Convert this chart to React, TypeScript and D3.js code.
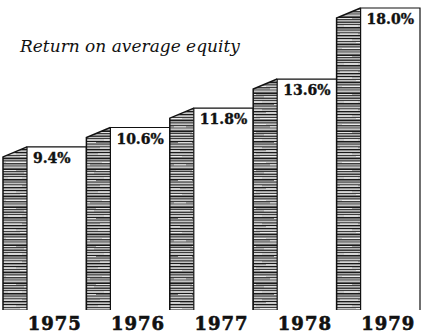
import React from "react";
import * as d3 from "d3";

const years = ["1975", "1976", "1977", "1978", "1979"];
const values = [9.4, 10.6, 11.8, 13.6, 18.0];
const valueLabels = ["9.4%", "10.6%", "11.8%", "13.6%", "18.0%"];
const title = "Return on average equity";

const W = 429;
const H = 336;
const baseline = 310;
const sideW = 24;
const depth = 10;

// deterministic woodcut-like stripe layout within pattern tile
const stripeOffsets = [0, 3.0, 5.6, 8.4, 11.2, 13.6, 16.4, 19.2, 21.6, 24.2, 27.0, 29.6, 32.4, 35.0];
const stripeWidths = [1.2, 0.8, 1.6, 0.9, 1.1, 0.7, 1.8, 0.9, 1.2, 0.8, 1.5, 0.9, 1.0, 1.3];
// short light streaks: [x, y, width]
const streaks = [
  [2, 1.6, 14], [20, 4.2, 18], [6, 10.0, 20], [30, 12.4, 12], [0, 18.0, 16],
  [24, 20.4, 22], [8, 25.6, 14], [34, 28.2, 16], [4, 33.6, 18], [26, 36.4, 10],
];

export default function App() {
  const x = d3.scaleBand<string>().domain(years).range([3, 420]).paddingInner(0).paddingOuter(0);
  const y = d3.scaleLinear().domain([-0.7, 18.0]).range([baseline, 8]);
  const step = x.bandwidth();
  const frontW = step - sideW;

  return (
    <div style={{ position: "absolute", left: 0, top: 0 }}>
      <svg width={W} height={H} style={{ display: "block", background: "#fff" }}>
        <defs>
          <pattern id="hatch" patternUnits="userSpaceOnUse" width={48} height={38}>
            <rect width={48} height={38} fill="#c4c4c4" />
            {stripeOffsets.map((o, i) => (
              <rect key={i} x={0} y={o} width={48} height={stripeWidths[i]} fill="#1a1a1a" />
            ))}
            {streaks.map((s, i) => (
              <rect key={"s" + i} x={s[0]} y={s[1]} width={s[2]} height={0.8} fill="#f5f5f5" />
            ))}
          </pattern>
        </defs>
        <text
          x={20}
          y={52}
          fontFamily="'DejaVu Serif', serif"
          fontStyle="italic"
          fontSize={17}
          fill="#111"
        >
          {title}
        </text>
        {years.map((yr, i) => {
          const x0 = x(yr) as number;
          const fx = x0 + sideW;
          const top = y(values[i]);
          const sidePath = `M${x0},${top + depth} L${fx},${top} L${fx},${baseline} L${x0},${baseline} Z`;
          return (
            <g key={yr}>
              <path d={sidePath} fill="url(#hatch)" stroke="none" />
              <path
                d={`M${x0},${baseline} L${x0},${top + depth} L${fx},${top}`}
                fill="none"
                stroke="#111"
                strokeWidth={1.5}
              />
              <rect x={fx} y={top} width={frontW} height={baseline - top} fill="#fff" />
              <path
                d={`M${fx},${baseline} L${fx},${top} L${fx + frontW},${top} L${fx + frontW},${baseline}`}
                fill="none"
                stroke="#111"
                strokeWidth={1.2}
              />
              <text
                x={fx + 6}
                y={top + 16}
                fontFamily="DejaVu Serif, serif"
                fontWeight="bold"
                fontSize={14}
                fill="#111"
                stroke="#111"
                strokeWidth={0.4}
              >
                {valueLabels[i]}
              </text>
              <text
                x={fx + frontW / 2 - 2}
                y={330}
                textAnchor="middle"
                fontFamily="DejaVu Serif, serif"
                fontWeight="bold"
                fontSize={18}
                letterSpacing={1}
                fill="#111"
                stroke="#111"
                strokeWidth={0.6}
              >
                {yr}
              </text>
            </g>
          );
        })}
      </svg>
    </div>
  );
}
